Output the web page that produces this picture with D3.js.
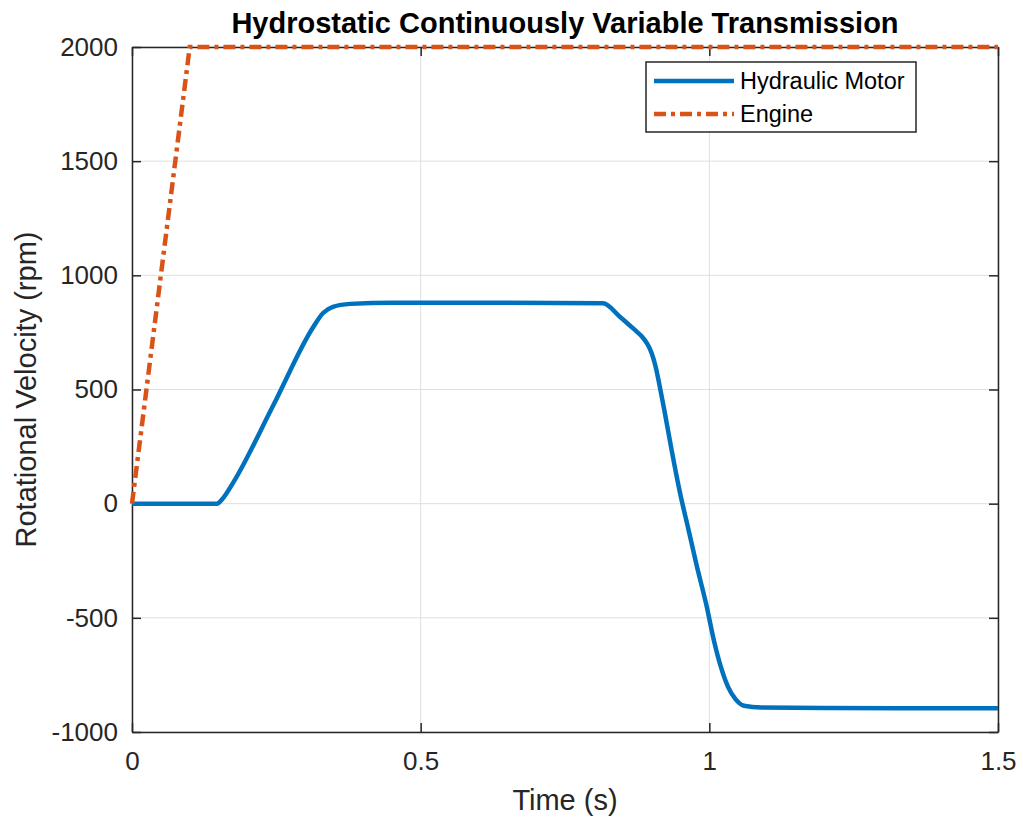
<!DOCTYPE html>
<html>
<head>
<meta charset="utf-8">
<script src="https://cdn.jsdelivr.net/npm/d3@7"></script>
<style>
  html, body { margin: 0; padding: 0; background: #fff; }
  svg { display: block; font-family: "Liberation Sans", Arial, Helvetica, sans-serif; }
</style>
</head>
<body>
<svg id="chart" width="1023" height="820"></svg>
<script>
// ---- data ----
const motorTime = [0, 0.147, 0.158, 0.175, 0.245, 0.314, 0.331, 0.348, 0.378, 0.45, 0.6, 0.816, 0.845, 0.87, 0.882, 0.892, 0.9, 0.907, 0.914, 0.922, 0.935, 0.949, 0.964, 0.978, 0.995, 1.008, 1.02, 1.032, 1.045, 1.06, 1.09, 1.2, 1.5];
const motorRpm  = [0, 0, 25, 91, 432, 774, 835, 862, 875, 880, 880, 878, 819, 763, 735, 702, 660, 600, 515, 410, 230, 50, -115, -270, -445, -600, -715, -800, -855, -885, -893, -895, -896];
const engineTime = [0, 0.1, 1.5];
const engineRpm  = [0, 2000, 2000];
const xTicks = [0, 0.5, 1, 1.5];
const xTickLabels = ["0", "0.5", "1", "1.5"];
const yTicks = [-1000, -500, 0, 500, 1000, 1500, 2000];
const yTickLabels = ["-1000", "-500", "0", "500", "1000", "1500", "2000"];
const seriesNames = ["Hydraulic Motor", "Engine"];
const seriesColors = ["#0072BD", "#D95319"];
const titleText = "Hydrostatic Continuously Variable Transmission";
const xLabelText = "Time (s)";
const yLabelText = "Rotational Velocity (rpm)";

// ---- layout ----
const svg = d3.select("#chart");
const L = 132, R = 998, T = 47, B = 732;
const axisColor = "#262626";
const x = d3.scaleLinear().domain([0, 1.5]).range([L, R]);
const y = d3.scaleLinear().domain([-1000, 2000]).range([B, T]);

// grid
const g = svg.append("g");
g.selectAll("line.gx").data(xTicks).enter().append("line")
  .attr("x1", d => x(d)).attr("x2", d => x(d)).attr("y1", T).attr("y2", B)
  .attr("stroke", "#dfdfdf").attr("stroke-width", 1);
g.selectAll("line.gy").data(yTicks).enter().append("line")
  .attr("y1", d => y(d)).attr("y2", d => y(d)).attr("x1", L).attr("x2", R)
  .attr("stroke", "#dfdfdf").attr("stroke-width", 1);

// axes with inward ticks
const tk = 9;
const xb = svg.append("g").attr("transform", `translate(0,${B})`)
  .call(d3.axisBottom(x).tickValues(xTicks).tickFormat((d, i) => xTickLabels[i]).tickSizeInner(-tk).tickSizeOuter(0).tickPadding(20));
const xt = svg.append("g").attr("transform", `translate(0,${T})`)
  .call(d3.axisTop(x).tickValues(xTicks).tickFormat("").tickSizeInner(-tk).tickSizeOuter(0));
const yl = svg.append("g").attr("transform", `translate(${L},0)`)
  .call(d3.axisLeft(y).tickValues(yTicks).tickFormat((d, i) => yTickLabels[i]).tickSizeInner(-tk).tickSizeOuter(0).tickPadding(14));
const yr = svg.append("g").attr("transform", `translate(${R},0)`)
  .call(d3.axisRight(y).tickValues(yTicks).tickFormat("").tickSizeInner(-tk).tickSizeOuter(0));
[xb, xt, yl, yr].forEach(a => {
  a.select(".domain").attr("stroke", axisColor).attr("stroke-width", 1.5);
  a.selectAll(".tick line").attr("stroke", axisColor).attr("stroke-width", 1.5);
  a.selectAll("text").attr("fill", "#262626").style("font-size", "26px")
    .style("font-family", "'Liberation Sans', Arial, sans-serif");
});
xb.selectAll("text").attr("dy", "0.71em");

// lines
const motorData = motorTime.map((t, i) => [t, motorRpm[i]]);
const engineData = engineTime.map((t, i) => [t, engineRpm[i]]);
const line = d3.line().x(d => x(d[0])).y(d => y(d[1])).curve(d3.curveMonotoneX);
const lineStraight = d3.line().x(d => x(d[0])).y(d => y(d[1]));
svg.append("path").datum(motorData).attr("d", line)
  .attr("fill", "none").attr("stroke", seriesColors[0]).attr("stroke-width", 4.5)
  .attr("stroke-linejoin", "round");
svg.append("path").datum(engineData).attr("d", lineStraight)
  .attr("fill", "none").attr("stroke", seriesColors[1]).attr("stroke-width", 4.5)
  .attr("stroke-dasharray", "12,5,4,5");

// title & labels
svg.append("text").attr("x", (L + R) / 2).attr("y", 33).attr("text-anchor", "middle")
  .style("font-size", "29px").style("font-weight", "bold").attr("fill", "#000").text(titleText);
svg.append("text").attr("x", (L + R) / 2).attr("y", 810).attr("text-anchor", "middle")
  .style("font-size", "29px").attr("fill", "#262626").text(xLabelText);
svg.append("text").attr("transform", `translate(36,${(T + B) / 2}) rotate(-90)`).attr("text-anchor", "middle")
  .style("font-size", "29px").attr("fill", "#262626").text(yLabelText);

// legend
const lg = svg.append("g");
lg.append("rect").attr("x", 646).attr("y", 62).attr("width", 270).attr("height", 70)
  .attr("fill", "#fff").attr("stroke", axisColor).attr("stroke-width", 1.5);
const rows = [81, 114];
seriesNames.forEach((name, i) => {
  const ln = lg.append("line").attr("x1", 654).attr("x2", 734).attr("y1", rows[i]).attr("y2", rows[i])
    .attr("stroke", seriesColors[i]).attr("stroke-width", 4.5);
  if (i === 1) ln.attr("stroke-dasharray", "12,5,4,5");
  lg.append("text").attr("x", 740).attr("y", rows[i]).attr("dy", "0.35em")
    .style("font-size", "23.5px").attr("fill", "#000").text(name);
});
</script>
</body>
</html>
